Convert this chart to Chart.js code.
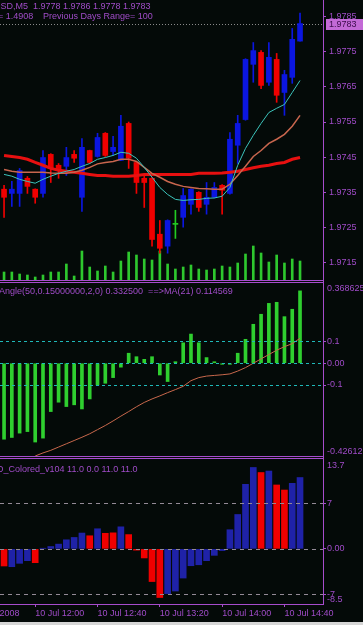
<!DOCTYPE html>
<html lang="en">
  <head>
    <meta charset="UTF-8" />
    <title>GBPUSD,M5</title>
    <style>
      body {
        margin: 0;
        width: 363px;
        height: 625px;
        overflow: hidden;
        position: relative;
        background-color: #040a08;
      }
      .pane {
        position: absolute;
        left: 0;
      }
      .hline {
        position: absolute;
        left: 0;
        width: 324px;
        height: 1px;
        background-color: #a64ccc;
      }
      .vline {
        position: absolute;
        left: 323px;
        top: 0;
        width: 1px;
        height: 605px;
        background-color: #a64ccc;
      }
      .bottom-strip {
        position: absolute;
        left: 0;
        top: 622px;
        width: 363px;
        height: 3px;
        background-color: #d6d6d6;
      }
    </style>
    <script src="https://cdn.jsdelivr.net/npm/chart.js"></script>
  </head>
  <body>
    <canvas id="priceChart" class="pane" style="top: 0" width="363" height="280"></canvas>
    <canvas id="angleChart" class="pane" style="top: 283px" width="363" height="173"></canvas>
    <canvas id="macdChart" class="pane" style="top: 460px" width="363" height="165"></canvas>
    <div class="hline" style="top: 280px"></div>
    <div class="hline" style="top: 282px"></div>
    <div class="hline" style="top: 456px"></div>
    <div class="hline" style="top: 458px"></div>
    <div class="vline"></div>
    <div class="bottom-strip"></div>

    <script>
      // bar times (M5, 10 Jul 2008)
      const barTimes = [
        "11:40", "11:45", "11:50", "11:55", "12:00", "12:05", "12:10", "12:15",
        "12:20", "12:25", "12:30", "12:35", "12:40", "12:45", "12:50", "12:55",
        "13:00", "13:05", "13:10", "13:15", "13:20", "13:25", "13:30", "13:35",
        "13:40", "13:45", "13:50", "13:55", "14:00", "14:05", "14:10", "14:15",
        "14:20", "14:25", "14:30", "14:35", "14:40", "14:45", "14:50",
      ];

      const openP = [
        1.97359, 1.97347, 1.97347, 1.9739, 1.97359, 1.97347, 1.97458, 1.97427,
        1.97424, 1.97458, 1.97336, 1.97469, 1.97452, 1.97518, 1.97466, 1.97441,
        1.97546, 1.97435, 1.9739, 1.9739, 1.97231, 1.97197, 1.97259, 1.97279,
        1.97316, 1.9735, 1.97316, 1.97336, 1.9737, 1.97347, 1.97484, 1.97557,
        1.97714, 1.97748, 1.97663, 1.97728, 1.97634, 1.97677, 1.9778,
      ];
      const highP = [
        1.9737, 1.97381, 1.97418, 1.97395, 1.9736, 1.97469, 1.9746, 1.97432,
        1.97478, 1.97469, 1.97503, 1.9747, 1.97518, 1.9752, 1.97509, 1.97569,
        1.9755, 1.97437, 1.97398, 1.97392, 1.9727, 1.97272, 1.97299, 1.97361,
        1.9736, 1.97352, 1.97378, 1.97378, 1.97372, 1.9752, 1.97569, 1.9773,
        1.97776, 1.97753, 1.97776, 1.97745, 1.97697, 1.97816, 1.9786,
      ];
      const lowP = [
        1.97279, 1.9731, 1.9731, 1.97347, 1.97319, 1.97336, 1.97378, 1.9739,
        1.97398, 1.97435, 1.97296, 1.97432, 1.9745, 1.97452, 1.97455, 1.9744,
        1.97418, 1.97347, 1.97307, 1.97197, 1.97177, 1.97177, 1.97219, 1.97251,
        1.97288, 1.97296, 1.97288, 1.97334, 1.97288, 1.97345, 1.97432, 1.97555,
        1.97663, 1.97645, 1.97654, 1.97606, 1.97569, 1.9766, 1.9778,
      ];
      const closeP = [
        1.97336, 1.97359, 1.97412, 1.97367, 1.97336, 1.97449, 1.97418, 1.97412,
        1.97449, 1.97447, 1.97478, 1.97435, 1.97506, 1.97455, 1.97478, 1.97538,
        1.97447, 1.97378, 1.97378, 1.97216, 1.97191, 1.9727, 1.97259, 1.97341,
        1.97359, 1.97307, 1.97336, 1.97364, 1.97356, 1.97501, 1.97546, 1.97728,
        1.97753, 1.97654, 1.97734, 1.97626, 1.97685, 1.97785, 1.9783,
      ];

      // moving averages on price
      const maFast = [
        1.97401, 1.97396, 1.97387, 1.97381, 1.97376, 1.97387, 1.97396, 1.97404,
        1.9741, 1.97415, 1.97424, 1.97432, 1.97444, 1.97449, 1.97455, 1.97464,
        1.97461, 1.97447, 1.97421, 1.97393, 1.97364, 1.97344, 1.9733, 1.97327,
        1.97329, 1.9733, 1.97333, 1.97334, 1.97339, 1.97364, 1.97427, 1.97475,
        1.97512, 1.97546, 1.97577, 1.97589, 1.976, 1.97634, 1.97668,
      ];
      const maMid = [
        1.97415, 1.9741, 1.97407, 1.97407, 1.97407, 1.97407, 1.97405, 1.97404,
        1.97404, 1.97407, 1.97413, 1.97421, 1.97431, 1.97435, 1.97438, 1.97444,
        1.97444, 1.97438, 1.97421, 1.97404, 1.97393, 1.97381, 1.97373, 1.97367,
        1.97364, 1.97361, 1.9736, 1.97359, 1.97359, 1.97373, 1.97398, 1.97424,
        1.97452, 1.97469, 1.97489, 1.97501, 1.97515, 1.97538, 1.97569,
      ];
      const maSlow = [
        1.97455, 1.97452, 1.97449, 1.97444, 1.97435, 1.97427, 1.97418, 1.97413,
        1.9741, 1.97407, 1.97404, 1.97401, 1.97398, 1.97398, 1.97396, 1.97396,
        1.97396, 1.97398, 1.97401, 1.97401, 1.97401, 1.97401, 1.97401, 1.97401,
        1.97401, 1.97404, 1.97404, 1.97404, 1.97405, 1.97407, 1.9741, 1.97415,
        1.9742, 1.97424, 1.97427, 1.97432, 1.97435, 1.97444, 1.97449,
      ];

      const tickVolume = [
        16, 16, 12, 10, 6, 10, 16, 16, 32, 8, 58, 26, 18, 28, 16, 38, 56, 50, 42,
        40, 58, 32, 22, 26, 30, 22, 20, 22, 28, 26, 34, 52, 68, 54, 36, 50, 34, 42,
        38,
      ];

      // Angle(50,0.15,2,0) histogram and its MA(21)
      const angleHist = [
        -0.349, -0.341, -0.321, -0.314, -0.362, -0.344, -0.222, -0.179, -0.199,
        -0.191, -0.21, -0.164, -0.0995, -0.092, -0.066, -0.018, 0.046, 0.03,
        0.018, 0.03, -0.054, -0.084, 0.007, 0.094, 0.134, 0.094, 0.026, 0.007,
        -0.005, -0.005, 0.046, 0.11, 0.179, 0.225, 0.275, 0.28, 0.214, 0.248,
        0.3325,
      ];
      const angleMa = [
        null, null, null, null, -0.426, -0.412, -0.4, -0.385, -0.37, -0.355,
        -0.34, -0.324, -0.305, -0.286, -0.265, -0.243, -0.222, -0.2, -0.18,
        -0.164, -0.15, -0.135, -0.121, -0.106, -0.08, -0.066, -0.059, -0.056,
        -0.053, -0.049, -0.036, -0.02, 0.0, 0.02, 0.04, 0.06, 0.076, 0.09,
        0.114569,
      ];

      // MACD_Colored_v104 histogram, "b" = blue bar, "r" = red bar
      const macdHist = [
        -2.64, -2.75, -2.23, -1.82, -2.13, 0.1, 0.36, 0.73, 1.4, 1.76, 2.44,
        2.02, 3.1, 2.4, 2.47, 3.4, 2.2, -0.2, -1.4, -5.04, -7.5, -6.9, -6.5,
        -4.5, -2.6, -2.45, -1.82, -1.0, -0.26, 2.95, 5.3, 9.95, 12.55, 11.77,
        12.0, 9.85, 9.07, 10.1, 11.0,
      ];
      const macdSide = [
        "r", "b", "b", "b", "r", "b", "b", "b", "b", "b", "b", "r", "b", "r",
        "r", "b", "r", "r", "r", "r", "r", "b", "b", "b", "b", "b", "b", "b",
        "b", "b", "b", "b", "b", "r", "b", "r", "r", "b", "b",
      ];

      // axis ticks and ranges
      const priceTicks = [1.9715, 1.9725, 1.9735, 1.9745, 1.9755, 1.9765, 1.9775, 1.9785];
      const priceRange = [1.971008, 1.978969];
      const bidPrice = 1.9783;
      const angleTicks = [-0.1, 0, 0.1];
      const angleTickLabels = ["-0.1", "0.00", "0.1"];
      const angleRange = [-0.42612, 0.368625];
      const angleRangeLabels = ["-0.42612", "0.368625"];
      const macdTicks = [-7, 0, 7];
      const macdTickLabels = ["-7", "0.00", "7"];
      const macdRange = [-8.5, 13.7];
      const macdRangeLabels = ["-8.5", "13.7"];
      const timeTickTimes = ["11:20", "12:00", "12:40", "13:20", "14:00", "14:40"];
      const timeTickLabels = [
        "10 Jul 2008", "10 Jul 12:00", "10 Jul 12:40",
        "10 Jul 13:20", "10 Jul 14:00", "10 Jul 14:40",
      ];

      const AXIS = "#a64ccc";
      const TEXT = "#a04cc8";
      const FONT = { family: "Liberation Sans", size: 9 };
      const FONT_CSS = '9px "Liberation Sans"';
      const BULL = "#0b16e0";
      const BEAR = "#f00000";
      const DOJI = "#22cc22";
      const XMIN = -0.52;
      const XMAX = 40.95;

      const idx = barTimes.map((t, i) => i);
      const toMin = (t) => {
        const [h, m] = t.split(":").map(Number);
        return h * 60 + m;
      };
      const timeTickIdx = timeTickTimes.map((t) => (toMin(t) - toMin(barTimes[0])) / 5);

      // draws header texts, level lines, range labels and the bid marker
      function makeDecor(cfg) {
        return {
          id: "decor",
          beforeDatasetsDraw(chart) {
            if (cfg.bid === undefined) return;
            const { ctx, chartArea: a } = chart;
            const py = Math.round(chart.scales.y.getPixelForValue(cfg.bid)) + 0.5;
            ctx.save();
            ctx.strokeStyle = "#8a8a8a";
            ctx.lineWidth = 1;
            ctx.setLineDash([1, 2]);
            ctx.beginPath();
            ctx.moveTo(a.left, py);
            ctx.lineTo(a.right, py);
            ctx.stroke();
            ctx.restore();
          },
          afterDatasetsDraw(chart) {
            if (!cfg.levels) return;
            const { ctx, chartArea: a } = chart;
            ctx.save();
            ctx.strokeStyle = cfg.levelColor;
            ctx.lineWidth = 1;
            ctx.setLineDash(cfg.levelDash);
            cfg.levels.forEach((v) => {
              const py = Math.round(chart.scales.y.getPixelForValue(v)) + 0.5;
              ctx.beginPath();
              ctx.moveTo(a.left, py);
              ctx.lineTo(a.right, py);
              ctx.stroke();
            });
            ctx.restore();
          },
          afterDraw(chart) {
            const { ctx, chartArea: a } = chart;
            ctx.save();
            ctx.font = FONT_CSS;
            ctx.fillStyle = TEXT;
            ctx.textBaseline = "middle";
            (cfg.texts || []).forEach((t) => ctx.fillText(t.text, t.x, t.y));
            if (cfg.rangeLabels) {
              ctx.textBaseline = "top";
              ctx.fillText(cfg.rangeLabels[1], a.right + 4, a.top + 1);
              ctx.textBaseline = "bottom";
              ctx.fillText(cfg.rangeLabels[0], a.right + 4, a.bottom);
            }
            if (cfg.bid !== undefined) {
              const py = Math.round(chart.scales.y.getPixelForValue(cfg.bid));
              ctx.fillStyle = "#c36ad6";
              ctx.fillRect(a.right + 3, py - 5, 37, 11);
              ctx.fillStyle = "#3c0c4c";
              ctx.textBaseline = "middle";
              ctx.fillText(cfg.bid.toFixed(4), a.right + 6, py + 0.5);
            }
            ctx.restore();
          },
        };
      }

      function hiddenX() {
        return { type: "linear", min: XMIN, max: XMAX, display: false, offset: false, grid: { offset: false } };
      }

      function rightAxis(range, ticks, fmt, pad) {
        return {
          position: "right",
          min: range[0],
          max: range[1],
          afterBuildTicks: (axis) => {
            axis.ticks = ticks.map((v) => ({ value: v }));
          },
          afterFit: (axis) => {
            axis.width = 40;
            axis.paddingTop = 0;
            axis.paddingBottom = 0;
          },
          ticks: { color: TEXT, font: FONT, padding: pad, callback: fmt },
          grid: { drawOnChartArea: false, tickLength: 3, tickColor: AXIS },
          border: { color: AXIS },
        };
      }

      const baseOptions = {
        responsive: false,
        animation: false,
        events: [],
        layout: { padding: 0 },
        plugins: { legend: { display: false }, tooltip: { enabled: false } },
      };

      const candleColor = idx.map((i) =>
        closeP[i] > openP[i] ? BULL : closeP[i] < openP[i] ? BEAR : DOJI
      );

      // main price window
      new Chart(document.getElementById("priceChart"), {
        type: "bar",
        data: {
          datasets: [
            {
              type: "line",
              data: idx.map((i) => ({ x: i, y: maFast[i] })),
              borderColor: "#3cc4bc",
              borderWidth: 1,
              pointRadius: 0,
              order: 1,
            },
            {
              type: "line",
              data: idx.map((i) => ({ x: i, y: maMid[i] })),
              borderColor: "#c8664e",
              borderWidth: 1.5,
              pointRadius: 0,
              order: 2,
            },
            {
              type: "line",
              data: idx.map((i) => ({ x: i, y: maSlow[i] })),
              borderColor: "#e81010",
              borderWidth: 3,
              pointRadius: 0,
              order: 3,
            },
            {
              data: idx.map((i) => ({ x: i, y: [openP[i], closeP[i]] })),
              backgroundColor: candleColor,
              barThickness: 5,
              minBarLength: 1,
              grouped: false,
              order: 4,
            },
            {
              data: idx.map((i) => ({ x: i, y: [lowP[i], highP[i]] })),
              backgroundColor: candleColor,
              barThickness: 1,
              grouped: false,
              order: 5,
            },
            {
              yAxisID: "vol",
              data: idx.map((i) => ({ x: i, y: tickVolume[i] })),
              backgroundColor: "#2ec82e",
              barThickness: 2,
              grouped: false,
              order: 6,
            },
          ],
        },
        options: {
          ...baseOptions,
          scales: {
            x: hiddenX(),
            y: rightAxis(priceRange, priceTicks, (v) => v.toFixed(4), 3),
            vol: { display: false, min: 0, max: 560 },
          },
        },
        plugins: [
          makeDecor({
            bid: bidPrice,
            texts: [
              { text: "GBPUSD,M5  1.9778 1.9786 1.9778 1.9783", x: -25, y: 7 },
              { text: "= 1.4908", x: -2, y: 17 },
              { text: "Previous Days Range= 100", x: 43, y: 17 },
            ],
          }),
        ],
      });

      // Angle indicator window
      new Chart(document.getElementById("angleChart"), {
        type: "bar",
        data: {
          datasets: [
            {
              type: "line",
              data: idx.filter((i) => angleMa[i] !== null).map((i) => ({ x: i, y: angleMa[i] })),
              borderColor: "#c8684c",
              borderWidth: 1,
              pointRadius: 0,
              order: 1,
            },
            {
              data: idx.map((i) => ({ x: i, y: angleHist[i] })),
              backgroundColor: "#2fcf2f",
              barThickness: 3,
              grouped: false,
              order: 2,
            },
          ],
        },
        options: {
          ...baseOptions,
          scales: {
            x: hiddenX(),
            y: rightAxis(angleRange, angleTicks, (v, i) => angleTickLabels[i], 1),
          },
        },
        plugins: [
          makeDecor({
            levels: angleTicks,
            levelColor: "#1fb8b8",
            levelDash: [3, 3],
            rangeLabels: angleRangeLabels,
            texts: [
              { text: "Angle(50,0.15000000,2,0) 0.332500  ==>MA(21) 0.114569", x: -1, y: 9 },
            ],
          }),
        ],
      });

      // MACD colored window with the time axis
      new Chart(document.getElementById("macdChart"), {
        type: "bar",
        data: {
          datasets: [
            {
              data: idx.map((i) => ({ x: i, y: macdHist[i] })),
              backgroundColor: idx.map((i) => (macdSide[i] === "r" ? "#f00000" : "#1f22a8")),
              barThickness: 6,
              grouped: false,
            },
          ],
        },
        options: {
          ...baseOptions,
          scales: {
            x: {
              type: "linear",
              min: XMIN,
              max: XMAX,
              position: "bottom",
              offset: false,
              afterBuildTicks: (axis) => {
                axis.ticks = timeTickIdx.map((v) => ({ value: v }));
              },
              afterFit: (axis) => {
                axis.height = 21;
                axis.paddingLeft = 0;
                axis.paddingRight = 0;
              },
              ticks: {
                autoSkip: false,
                maxRotation: 0,
                minRotation: 0,
                align: "start",
                padding: 1,
                color: TEXT,
                font: FONT,
                callback: (v, i) => timeTickLabels[i],
              },
              grid: { offset: false, drawOnChartArea: false, tickLength: 3, tickColor: AXIS },
              border: { color: AXIS },
            },
            y: rightAxis(macdRange, macdTicks, (v, i) => macdTickLabels[i], 1),
          },
        },
        plugins: [
          makeDecor({
            levels: macdTicks,
            levelColor: "#948a96",
            levelDash: [4, 4],
            rangeLabels: macdRangeLabels,
            texts: [{ text: "MACD_Colored_v104 11.0 0.0 11.0 11.0", x: -23, y: 10 }],
          }),
        ],
      });
    </script>
  </body>
</html>
